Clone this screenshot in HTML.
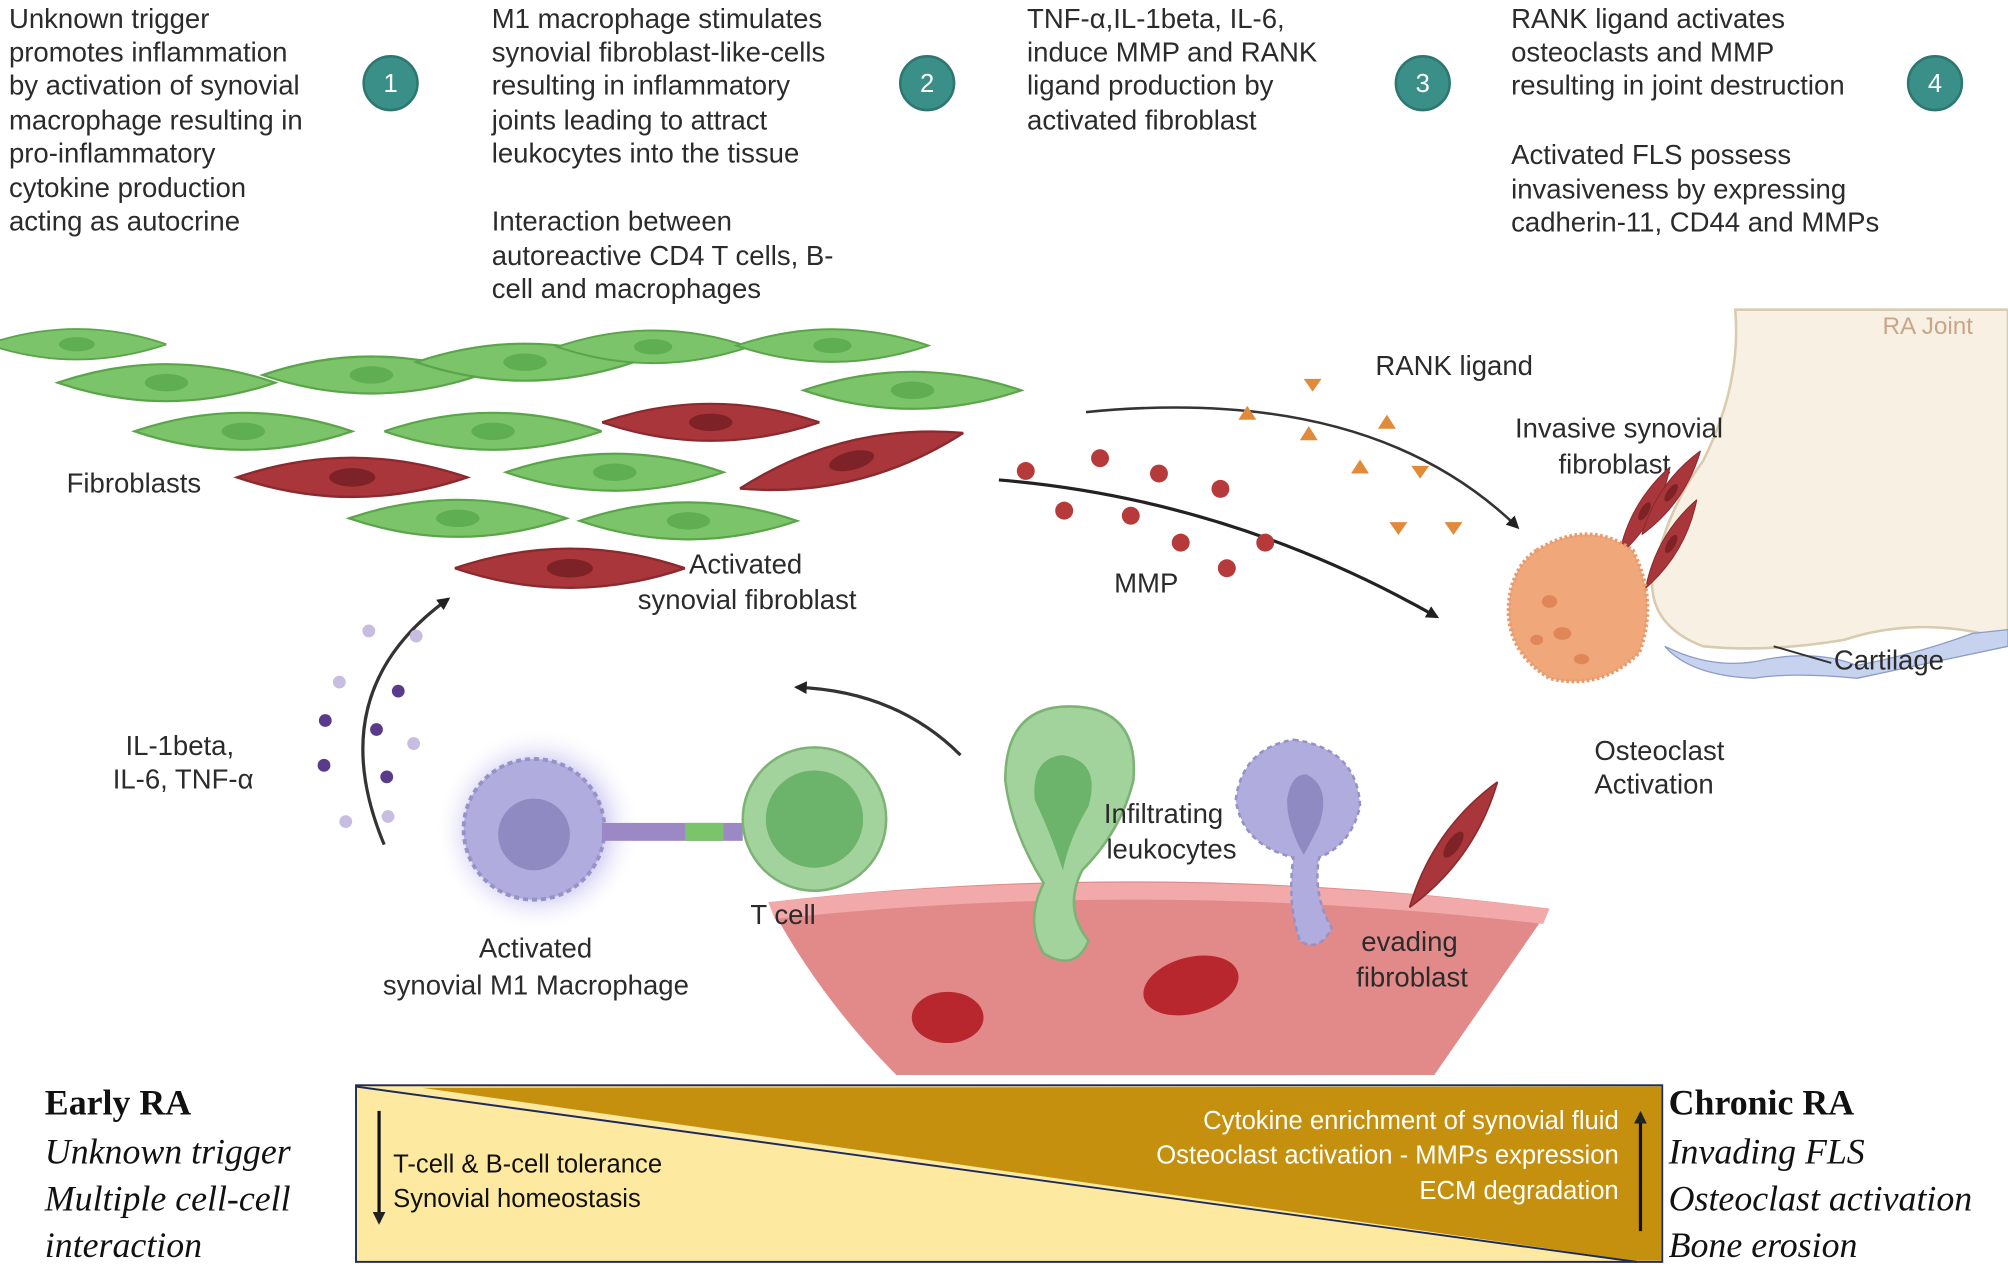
<!DOCTYPE html>
<html><head><meta charset="utf-8"><style>
html,body{margin:0;padding:0;background:#fff}
svg{display:block}
.t{font-family:"Liberation Sans",sans-serif;font-size:21.5px;fill:#2b2b2b}
.s{font-family:"Liberation Serif",serif;fill:#111}
.w{font-family:"Liberation Sans",sans-serif;font-size:20px;fill:#fff}
.k{font-family:"Liberation Sans",sans-serif;font-size:20px;fill:#111}
</style></head><body>
<svg width="2008" height="1267" viewBox="0 0 1568 990" preserveAspectRatio="none" xmlns="http://www.w3.org/2000/svg">
<defs>
<marker id="ar" markerWidth="10" markerHeight="10" refX="8" refY="5" orient="auto" markerUnits="userSpaceOnUse"><path d="M0,0 L10,5 L0,10 z" fill="#222"/></marker>
<symbol id="g" viewBox="-100 -20 200 40"><path d="M-100,0 Q0,-34 100,0 Q0,34 -100,0z" fill="#7cc46a" stroke="#5aa44a" stroke-width="2"/><ellipse cx="0" cy="0" rx="20" ry="8" fill="#5fae52"/></symbol>
<symbol id="r" viewBox="-100 -20 200 40"><path d="M-100,0 Q0,-34 100,0 Q0,34 -100,0z" fill="#a8363a" stroke="#8a2a2e" stroke-width="2"/><ellipse cx="0" cy="0" rx="20" ry="8" fill="#7d2226"/></symbol>
<radialGradient id="glow"><stop offset="0.6" stop-color="#c8c4f0"/><stop offset="1" stop-color="#fff" stop-opacity="0"/></radialGradient>
</defs>
<g class="t">
<text x="7" y="22">Unknown trigger</text><text x="7" y="48">promotes inflammation</text><text x="7" y="74">by activation of synovial</text><text x="7" y="101">macrophage resulting in</text><text x="7" y="127">pro-inflammatory</text><text x="7" y="154">cytokine production</text><text x="7" y="180">acting as autocrine</text>
<text x="384" y="22">M1 macrophage stimulates</text><text x="384" y="48">synovial fibroblast-like-cells</text><text x="384" y="74">resulting in inflammatory</text><text x="384" y="101">joints leading to attract</text><text x="384" y="127">leukocytes into the tissue</text>
<text x="384" y="180">Interaction between</text><text x="384" y="207">autoreactive CD4 T cells, B-</text><text x="384" y="233">cell and macrophages</text>
<text x="802" y="22">TNF-α,IL-1beta, IL-6,</text><text x="802" y="48">induce MMP and RANK</text><text x="802" y="74">ligand production by</text><text x="802" y="101">activated fibroblast</text>
<text x="1180" y="22">RANK ligand activates</text><text x="1180" y="48">osteoclasts and MMP</text><text x="1180" y="74">resulting in joint destruction</text>
<text x="1180" y="128">Activated FLS possess</text><text x="1180" y="155">invasiveness by expressing</text><text x="1180" y="181">cadherin-11, CD44 and MMPs</text>
</g>
<g font-family="Liberation Sans,sans-serif" font-size="20" fill="#fff" text-anchor="middle">
<circle cx="305" cy="65" r="21" fill="#3a9088" stroke="#2d7770" stroke-width="2"/><text x="305" y="72">1</text>
<circle cx="724" cy="65" r="21" fill="#3a9088" stroke="#2d7770" stroke-width="2"/><text x="724" y="72">2</text>
<circle cx="1111" cy="65" r="21" fill="#3a9088" stroke="#2d7770" stroke-width="2"/><text x="1111" y="72">3</text>
<circle cx="1511" cy="65" r="21" fill="#3a9088" stroke="#2d7770" stroke-width="2"/><text x="1511" y="72">4</text>
</g>
<use href="#g" x="-10" y="255" width="140" height="28"/>
<use href="#g" x="35" y="282" width="190" height="34"/>
<use href="#g" x="200" y="276" width="180" height="34"/>
<use href="#g" x="320" y="266" width="180" height="34"/>
<use href="#g" x="430" y="256" width="160" height="30"/>
<use href="#g" x="555" y="255" width="190" height="30"/>
<use href="#g" x="620" y="288" width="185" height="34"/>
<use href="#g" x="95" y="320" width="190" height="34"/>
<use href="#g" x="300" y="320" width="170" height="34"/>
<use href="#g" x="390" y="352" width="180" height="34"/>
<use href="#g" x="265" y="388" width="185" height="34"/>
<use href="#g" x="445" y="390" width="185" height="34"/>
<use href="#r" x="180" y="355" width="190" height="36"/>
<use href="#r" x="470" y="312" width="170" height="36"/>
<g transform="rotate(-14 665 360)"><use href="#r" x="575" y="342" width="180" height="36"/></g>
<use href="#r" x="355" y="426" width="180" height="36"/>
<g class="t">
<text x="52" y="385">Fibroblasts</text>
<text x="538" y="448">Activated</text><text x="498" y="476">synovial fibroblast</text>
</g>
<path d="M1355,242 L1568,242 L1568,500 Q1500,480 1440,500 Q1380,510 1330,505 Q1290,490 1290,455 Q1300,400 1330,360 Q1360,300 1355,242z" fill="#f7f0e3" stroke="#d8cbb0" stroke-width="2"/>
<path d="M1300,505 Q1340,525 1380,515 Q1420,508 1450,520 Q1500,510 1540,495 L1568,492 L1568,505 Q1520,515 1450,530 Q1400,525 1370,530 Q1320,528 1300,505z" fill="#c6d2ee" stroke="#8a9cc8"/>
<text x="1470" y="261" font-family="Liberation Sans,sans-serif" font-size="19" fill="#c9a68a">RA Joint</text>
<text class="t" x="1183" y="342">Invasive synovial</text><text class="t" x="1217" y="370">fibroblast</text>
<g transform="rotate(-60 1285 400)"><use href="#r" x="1245" y="388" width="80" height="22"/></g>
<g transform="rotate(-55 1305 385)"><use href="#r" x="1265" y="374" width="80" height="22"/></g>
<g transform="rotate(-60 1305 425)"><use href="#r" x="1265" y="414" width="80" height="22"/></g>
<path d="M1200,430 Q1240,405 1275,430 Q1295,470 1280,510 Q1250,540 1210,530 Q1170,505 1180,460 Q1185,440 1200,430z" fill="#f0a77a" stroke="#e89a6b" stroke-width="3" stroke-dasharray="2 2"/>
<g fill="#e0875a"><ellipse cx="1210" cy="470" rx="6" ry="5"/><ellipse cx="1220" cy="495" rx="7" ry="5"/><ellipse cx="1200" cy="500" rx="5" ry="4"/><ellipse cx="1235" cy="515" rx="6" ry="4"/></g>
<path d="M1385,505 L1430,518" stroke="#333" stroke-width="1.5"/>
<text class="t" x="1432" y="523">Cartilage</text>
<text class="t" x="1245" y="594">Osteoclast</text><text class="t" x="1245" y="620">Activation</text>
<path d="M848,322 Q1070,300 1185,412" fill="none" stroke="#333" stroke-width="2" marker-end="url(#ar)"/>
<path d="M780,375 Q960,390 1122,482" fill="none" stroke="#222" stroke-width="2.5" marker-end="url(#ar)"/>
<text class="t" x="1074" y="293">RANK ligand</text>
<text class="t" x="870" y="463">MMP</text>
<g fill="#e08a3a">
<path d="M1018,296 l14,0 l-7,10z"/><path d="M967,328 l7,-11 l7,11z"/><path d="M1076,335 l7,-11 l7,11z"/><path d="M1015,344 l7,-11 l7,11z"/><path d="M1055,370 l7,-11 l7,11z"/><path d="M1102,364 l14,0 l-7,10z"/><path d="M1085,408 l14,0 l-7,10z"/><path d="M1128,408 l14,0 l-7,10z"/>
</g>
<g fill="#b63a3a">
<circle cx="801" cy="368" r="7"/><circle cx="859" cy="358" r="7"/><circle cx="905" cy="370" r="7"/><circle cx="953" cy="382" r="7"/><circle cx="831" cy="399" r="7"/><circle cx="883" cy="403" r="7"/><circle cx="922" cy="424" r="7"/><circle cx="988" cy="424" r="7"/><circle cx="958" cy="444" r="7"/>
</g>
<path d="M300,660 Q250,540 350,468" fill="none" stroke="#333" stroke-width="2.5" marker-end="url(#ar)"/>
<g fill="#c7bde0"><circle cx="288" cy="493" r="5"/><circle cx="325" cy="497" r="5"/><circle cx="265" cy="533" r="5"/><circle cx="323" cy="581" r="5"/><circle cx="270" cy="642" r="5"/><circle cx="303" cy="638" r="5"/></g>
<g fill="#5a3a8a"><circle cx="311" cy="540" r="5"/><circle cx="254" cy="563" r="5"/><circle cx="294" cy="570" r="5"/><circle cx="253" cy="598" r="5"/><circle cx="302" cy="607" r="5"/></g>
<text class="t" x="98" y="590">IL-1beta,</text><text class="t" x="88" y="616">IL-6, TNF-α</text>
<path d="M750,590 Q700,540 622,537" fill="none" stroke="#333" stroke-width="2.5" marker-end="url(#ar)"/>
<path d="M600,705 Q900,670 1210,710 L1120,840 L700,840 Q640,780 600,705z" fill="#e28a8a"/>
<path d="M600,705 Q900,672 1210,710 L1205,722 Q900,686 605,718z" fill="#f1a9a9"/>
<ellipse cx="930" cy="770" rx="38" ry="22" fill="#b8262e" transform="rotate(-15 930 770)"/>
<ellipse cx="740" cy="795" rx="28" ry="20" fill="#b8262e"/>
<circle cx="420" cy="648" r="80" fill="url(#glow)"/>
<circle cx="417" cy="648" r="55" fill="#b0acdd" stroke="#9692c8" stroke-width="3" stroke-dasharray="4 3"/>
<circle cx="417" cy="652" r="28" fill="#8f8ac2"/>
<rect x="470" y="643" width="110" height="14" fill="#9b88c4"/><rect x="535" y="643" width="30" height="14" fill="#7cc46a"/>
<circle cx="636" cy="640" r="56" fill="#a3d39c" stroke="#7cb374" stroke-width="2"/>
<circle cx="636" cy="640" r="38" fill="#6cb36b"/>
<text class="t" x="586" y="722">T cell</text>
<text class="t" x="374" y="748">Activated</text><text class="t" x="299" y="777">synovial M1 Macrophage</text>
<path d="M835,552 Q890,552 885,610 Q875,650 845,680 Q830,710 850,735 Q840,760 815,745 Q800,720 815,690 Q790,650 785,610 Q785,552 835,552z" fill="#a3d39c" stroke="#7cb374" stroke-width="2"/>
<path d="M830,590 Q860,595 850,630 Q835,655 830,680 Q820,650 808,625 Q805,592 830,590z" fill="#6cb36b"/>
<path d="M1010,578 Q1060,585 1062,630 Q1055,660 1030,670 Q1025,700 1040,725 Q1030,745 1015,735 Q1005,705 1010,670 Q970,660 965,625 Q970,585 1010,578z" fill="#b0acdd" stroke="#9692c8" stroke-width="2" stroke-dasharray="4 3"/>
<path d="M1020,605 Q1040,615 1030,645 Q1020,665 1018,668 Q1005,645 1005,625 Q1008,605 1020,605z" fill="#8f8ac2"/>
<text class="t" x="862" y="643">Infiltrating</text><text class="t" x="864" y="671">leukocytes</text>
<g transform="rotate(-55 1135 660)"><use href="#r" x="1075" y="647" width="120" height="26"/></g>
<text class="t" x="1063" y="743">evading</text><text class="t" x="1059" y="771">fibroblast</text>
<rect x="278" y="848" width="1020" height="138" fill="#fde9a0" stroke="#1e2a5a" stroke-width="1.5"/>
<path d="M330,850 L1297,849 L1297,985 L1275,985z" fill="#c4900d"/>
<line x1="278" y1="849" x2="1278" y2="986" stroke="#1e2a5a" stroke-width="1.5"/>
<path d="M296,868 L296,955" stroke="#111" stroke-width="2.5" marker-end="url(#ar)"/>
<path d="M1281,962 L1281,870" stroke="#111" stroke-width="2.5" marker-end="url(#ar)"/>
<text class="k" x="307" y="916">T-cell &amp; B-cell tolerance</text><text class="k" x="307" y="943">Synovial homeostasis</text>
<g class="w" text-anchor="end"><text x="1264" y="882">Cytokine enrichment of synovial fluid</text><text x="1264" y="909">Osteoclast activation - MMPs expression</text><text x="1264" y="937">ECM degradation</text></g>
<g class="s" font-size="28">
<text x="35" y="871" font-weight="bold">Early RA</text>
<text x="35" y="909" font-style="italic">Unknown trigger</text><text x="35" y="946" font-style="italic">Multiple cell-cell</text><text x="35" y="982" font-style="italic">interaction</text>
<text x="1303" y="871" font-weight="bold">Chronic RA</text>
<text x="1303" y="909" font-style="italic">Invading FLS</text><text x="1303" y="946" font-style="italic">Osteoclast activation</text><text x="1303" y="982" font-style="italic">Bone erosion</text>
</g>
</svg>
</body></html>
